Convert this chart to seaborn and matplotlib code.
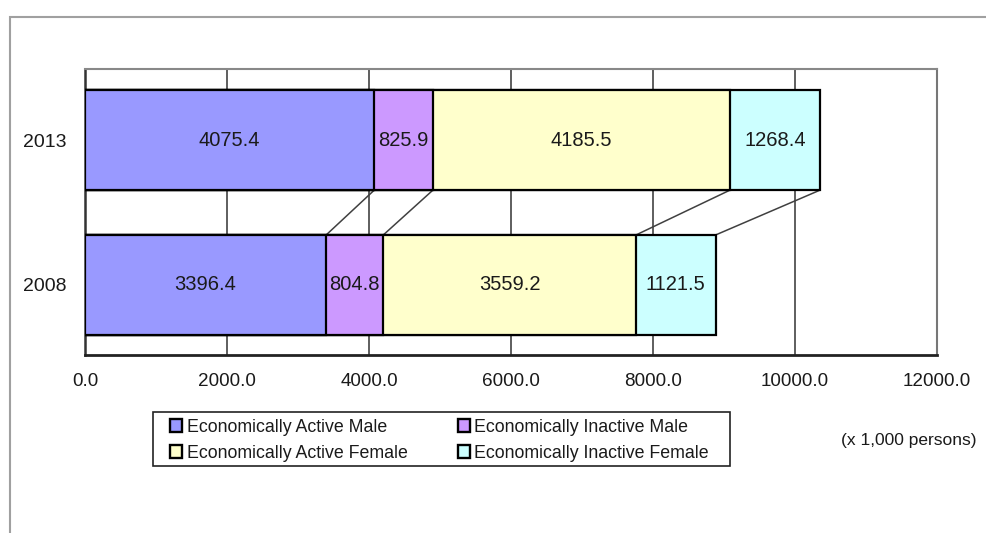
import matplotlib
matplotlib.use("Agg")
import matplotlib.pyplot as plt
from matplotlib.patches import Patch, Rectangle
import pandas as pd
import seaborn as sns

# Population aged 15+ by economic activity and sex (thousand persons)
years = ["2013", "2008"]
series = [
    "Economically Active Male",
    "Economically Inactive Male",
    "Economically Active Female",
    "Economically Inactive Female",
]
values_2013 = [4075.4, 825.9, 4185.5, 1268.4]
values_2008 = [3396.4, 804.8, 3559.2, 1121.5]
colors = ["#9999FF", "#CC99FF", "#FFFFCC", "#CCFFFF"]
x_ticks = [0, 2000, 4000, 6000, 8000, 10000, 12000]
unit_note = "(x 1,000 persons)"

sns.set_style("white")
plt.rcParams["font.family"] = ["Liberation Sans", "DejaVu Sans"]
text_color = "#1a1a1a"

values = {"2013": values_2013, "2008": values_2008}
rows = []
for yr in years:
    run = 0.0
    for name, v in zip(series, values[yr]):
        rows.append({"year": yr, "series": name, "value": v, "left": run, "cum": run + v})
        run += v
df = pd.DataFrame(rows)

W, H = 987, 533
fig = plt.figure(figsize=(W / 100, H / 100), dpi=100)
# outer chart-area border
fig.add_artist(Rectangle((10 / W, -0.1), 1.2, 1 - 17 / H + 0.1,
                         transform=fig.transFigure, fill=False,
                         edgecolor="#a0a0a0", linewidth=1.5))
ax = fig.add_axes([85 / W, (H - 355) / H, (937 - 85) / W, (355 - 69) / H])

bar_h = 0.69
# stacked bars: cumulative totals drawn from the longest down
for name, c in reversed(list(zip(series, colors))):
    sns.barplot(data=df[df["series"] == name], x="cum", y="year", order=years,
                orient="y", color=c, saturation=1, edgecolor="black",
                linewidth=1.6, width=bar_h, errorbar=None, ax=ax, zorder=3)

for _, r in df.iterrows():
    yi = years.index(r["year"])
    ax.text(r["left"] + r["value"] / 2, yi, f"{r['value']:.1f}",
            ha="center", va="center", fontsize=14.5, color=text_color, zorder=5)

# series lines joining segment ends of the two bars
top = df[df["year"] == "2013"]["cum"].tolist()
bot = df[df["year"] == "2008"]["cum"].tolist()
for a, b in zip(top, bot):
    ax.plot([a, b], [0 + bar_h / 2, 1 - bar_h / 2], color="#404040", lw=1.1, zorder=2)

ax.set_xlim(0, 12000)
ax.set_ylim(1.483, -0.49)
ax.set_xticks(x_ticks)
ax.set_xticklabels([f"{v:.1f}" for v in x_ticks])
ax.xaxis.grid(True, color="#333333", linewidth=1.1, zorder=1)
ax.yaxis.grid(False)
ax.set_axisbelow(True)
ax.set_xlabel("")
ax.set_ylabel("")

ax.tick_params(axis="x", length=0, pad=13, labelsize=13.6, labelcolor=text_color)
ax.tick_params(axis="y", which="major", length=0, pad=13.5, labelsize=14, labelcolor=text_color)
ax.set_yticks([0.5], minor=True)
ax.tick_params(axis="y", which="minor", direction="in", length=4.5, width=1.2, color="#333333")

ax.spines["left"].set_color("#333333")
ax.spines["left"].set_linewidth(1.8)
ax.spines["bottom"].set_color("#222222")
ax.spines["bottom"].set_linewidth(2.0)
ax.spines["top"].set_color("#888888")
ax.spines["top"].set_linewidth(1.5)
ax.spines["right"].set_color("#777777")
ax.spines["right"].set_linewidth(1.5)

# legend box and entries
fig.add_artist(Rectangle((153 / W, (H - 466) / H), (730 - 153) / W, (466 - 412) / H,
                         transform=fig.transFigure, fill=False,
                         edgecolor="#222222", linewidth=1.2))
handles = [Patch(facecolor=c, edgecolor="black", linewidth=1.7) for c in colors]
order = [0, 2, 1, 3]
leg = fig.legend([handles[i] for i in order], [series[i] for i in order],
                 ncol=2, loc="upper left",
                 bbox_to_anchor=(170 / W, 1 - 418.5 / H),
                 frameon=False, fontsize=12.8, handlelength=0.7, handleheight=0.7,
                 handletextpad=0.25, labelspacing=0.53, borderpad=0,
                 borderaxespad=0, columnspacing=2.8)
for t in leg.get_texts():
    t.set_color(text_color)

fig.text(977 / W, 1 - 440 / H, unit_note, ha="right", va="center",
         fontsize=12.5, color=text_color)

fig.savefig("out.png", dpi=100)
